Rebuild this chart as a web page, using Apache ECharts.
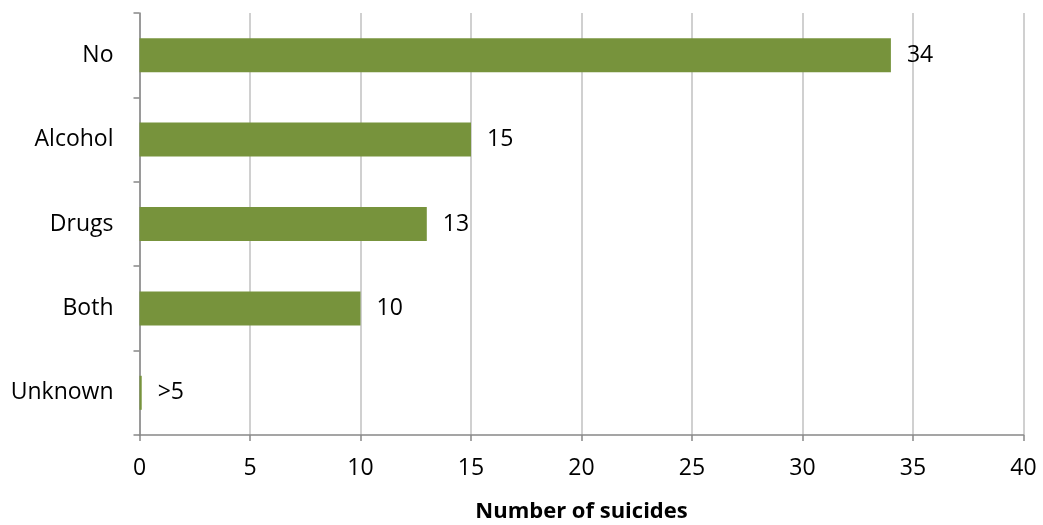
<!DOCTYPE html>
<html><head><meta charset="utf-8">
<script src="https://cdn.jsdelivr.net/npm/echarts@6/dist/echarts.min.js"></script>
<style>html,body{margin:0;padding:0;background:#fff}#c{width:1043px;height:525px}</style>
</head><body><div id="c"></div>
<script>
const categories = ['No', 'Alcohol', 'Drugs', 'Both', 'Unknown'];
const values = [34, 15, 13, 10, 0.1];
const valueLabels = ['34', '15', '13', '10', '>5'];
const xTicks = [0, 5, 10, 15, 20, 25, 30, 35, 40];

const font = 'Open Sans, Liberation Sans, sans-serif';
const chart = echarts.init(document.getElementById('c'));
chart.setOption({
  animation: false,
  grid: { left: 139.5, right: 19.5, top: 13, bottom: 90, containLabel: false, outerBoundsMode: 'none' },
  xAxis: {
    type: 'value', min: xTicks[0], max: xTicks[xTicks.length - 1], interval: 5,
    name: 'Number of suicides', nameLocation: 'middle', nameGap: 66,
    nameTextStyle: { fontFamily: font, fontSize: 22, fontWeight: 'bold', color: '#000' },
    axisLine: { show: true, lineStyle: { color: '#888', width: 1.5 } },
    axisTick: { show: true, length: 6, lineStyle: { color: '#888', width: 1.5 } },
    axisLabel: { fontFamily: font, fontSize: 23, color: '#000', margin: 22 },
    splitLine: { show: true, lineStyle: { color: '#c0c0c0', width: 1.5 } }
  },
  yAxis: {
    type: 'category', data: categories, inverse: true,
    axisLine: { show: true, lineStyle: { color: '#888', width: 1.5 } },
    axisTick: { show: true, length: 6, lineStyle: { color: '#888', width: 1.5 } },
    axisLabel: { fontFamily: font, fontSize: 23, color: '#000', margin: 26, padding: [6, 0, 0, 0] },
    splitLine: { show: false }
  },
  series: [{
    type: 'bar',
    data: values,
    barWidth: 34,
    itemStyle: { color: '#77933c' },
    label: {
      show: true, position: 'right', distance: 16, padding: [6, 0, 0, 0],
      fontFamily: font, fontSize: 23, color: '#000',
      formatter: p => valueLabels[p.dataIndex]
    }
  }]
});
</script></body></html>
